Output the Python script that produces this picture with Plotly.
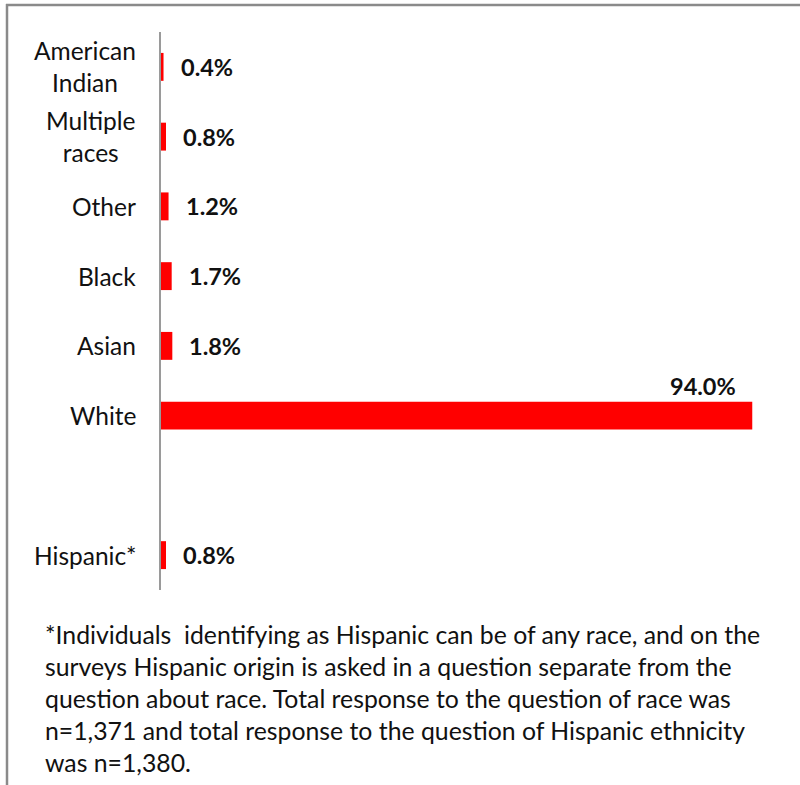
import plotly.graph_objects as go

# Race / ethnicity shares (percent of respondents)
categories = ["American Indian", "Multiple races", "Other", "Black", "Asian", "White", " ", "Hispanic*"]
tick_text = ["American<br>Indian", "Multiple<br>races", "Other", "Black", "Asian", "White", "", "Hispanic*"]
values = [0.4, 0.8, 1.2, 1.7, 1.8, 94.0, None, 0.8]
value_labels = ["0.4%", "0.8%", "1.2%", "1.7%", "1.8%", "94.0%", "", "0.8%"]

footnote_lines = [
    "*Individuals  identifying as Hispanic can be of any race, and on the",
    "surveys Hispanic origin is asked in a question separate from the",
    "question about race. Total response to the question of race was",
    "n=1,371 and total response to the question of Hispanic ethnicity",
    "was n=1,380.",
]

FONT = "Lato, 'Open Sans', sans-serif"
TEXT = "#111111"

W, H = 800, 785
ML, MR, MT, MB = 161, 10, 32, 195

fig = go.Figure(
    go.Bar(
        y=categories,
        x=values,
        orientation="h",
        marker=dict(color="#FF0000", line=dict(width=0)),
        width=0.4,
        hoverinfo="skip",
    )
)

annotations = []
# Category labels, centred line by line, right-aligned block
for cat, txt in zip(categories, tick_text):
    if not txt:
        continue
    annotations.append(dict(
        x=0, y=cat, xref="x", yref="y", text=txt, showarrow=False,
        xanchor="right", yanchor="middle", align="center", xshift=-23,
        font=dict(family=FONT, size=24.5, color=TEXT),
    ))

# Value labels
for cat, v, lab in zip(categories, values, value_labels):
    if v is None:
        continue
    if v > 50:
        annotations.append(dict(
            x=v, y=cat, xref="x", yref="y", text=f"<b>{lab}</b>", showarrow=False,
            xanchor="right", yanchor="middle", xshift=-14, yshift=30,
            font=dict(family=FONT, size=23.5, color=TEXT),
        ))
    else:
        annotations.append(dict(
            x=v, y=cat, xref="x", yref="y", text=f"<b>{lab}</b>", showarrow=False,
            xanchor="left", yanchor="middle", xshift=15,
            font=dict(family=FONT, size=23.5, color=TEXT),
        ))

# Footnote, one line per annotation for fixed spacing
plot_w = W - ML - MR
plot_h = H - MT - MB
def px_to_paper_x(px):
    return (px - ML) / plot_w
def px_to_paper_y(py):
    return (H - MB - py) / plot_h

for i, line in enumerate(footnote_lines):
    annotations.append(dict(
        x=px_to_paper_x(43), y=px_to_paper_y(634 + 32 * i), xref="paper", yref="paper",
        text=line, showarrow=False, xanchor="left", yanchor="middle", align="left",
        font=dict(family=FONT, size=24.8, color=TEXT),
    ))

# Outer frame (left and top edges)
frame = dict(type="line", xref="paper", yref="paper", line=dict(color="#8a8a8a", width=2.5))
shapes = [
    dict(frame, x0=px_to_paper_x(7), x1=px_to_paper_x(7), y0=px_to_paper_y(4), y1=px_to_paper_y(790)),
    dict(frame, x0=px_to_paper_x(6), x1=px_to_paper_x(810), y0=px_to_paper_y(5), y1=px_to_paper_y(5)),
]

fig.update_layout(
    width=W, height=H,
    margin=dict(l=ML, r=MR, t=MT, b=MB),
    paper_bgcolor="white", plot_bgcolor="white",
    showlegend=False,
    bargap=0.6,
    xaxis=dict(range=[0, 100], visible=False, fixedrange=True),
    yaxis=dict(
        categoryorder="array", categoryarray=categories, autorange="reversed",
        showticklabels=False, ticks="", showgrid=False, zeroline=False,
        showline=True, linecolor="#9a9a9a", linewidth=2, fixedrange=True,
    ),
    annotations=annotations,
    shapes=shapes,
)

fig.write_html("out.html")
